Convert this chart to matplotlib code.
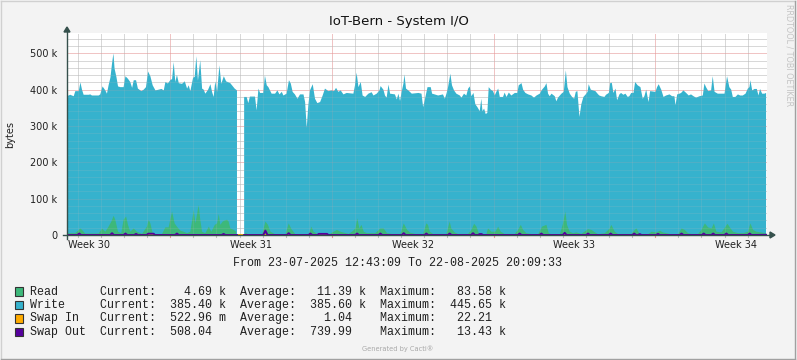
import numpy as np
import pandas as pd
import matplotlib
matplotlib.use("Agg")
import matplotlib.pyplot as plt
from matplotlib.patches import Rectangle, Polygon
from matplotlib.lines import Line2D

# ---------------- data ----------------
title = "IoT-Bern - System I/O"
y_label = "bytes"
start = pd.Timestamp("2025-07-23 12:43:09")
end = pd.Timestamp("2025-08-22 20:09:33")
week_labels = ["Week 30", "Week 31", "Week 32", "Week 33", "Week 34"]
week_mondays = ["2025-07-21", "2025-07-28", "2025-08-04", "2025-08-11", "2025-08-18"]
y_ticks = [0, 100e3, 200e3, 300e3, 400e3, 500e3]
y_tick_labels = ["0", "100 k", "200 k", "300 k", "400 k", "500 k"]

# Write (kB) : time in days since start
write_t = [0.00, 0.14, 0.29, 0.36, 0.51, 0.58, 0.65, 0.72, 0.94, 1.01, 1.08, 1.37, 1.44, 1.54, 1.66, 1.73,
           1.80, 1.88, 1.95, 2.01, 2.06, 2.14, 2.21, 2.31, 2.45, 2.53, 2.64, 2.74, 2.82, 2.89, 2.99, 3.07,
           3.22, 3.32, 3.42, 3.51, 3.61, 3.71, 3.83, 3.97, 4.09, 4.19, 4.26, 4.37, 4.48, 4.55, 4.62, 4.69,
           4.76, 4.84, 4.98, 5.10, 5.20, 5.27, 5.34, 5.46, 5.53, 5.60, 5.67, 5.77, 5.85, 5.92, 5.99, 6.11,
           6.21, 6.28, 6.35, 6.42, 6.50, 6.60, 6.68, 6.79, 6.89, 7.07, 7.26, 7.36, 7.50,
           7.67, 7.78, 7.85, 7.92, 8.14, 8.21, 8.29, 8.36, 8.50, 8.57, 8.65, 8.72, 8.86, 9.01, 9.11, 9.20,
           9.30, 9.37, 9.51, 9.61, 9.69, 9.77, 9.87, 9.98, 10.09, 10.24, 10.31, 10.38, 10.45, 10.52, 10.64,
           10.74, 10.84, 10.96, 11.07, 11.17, 11.32, 11.46, 11.56, 11.65, 11.75, 11.85, 11.97, 12.11, 12.40,
           12.47, 12.54, 12.62, 12.72, 12.80, 12.91, 13.05, 13.19, 13.27, 13.41, 13.53, 13.58, 13.70, 13.77,
           13.84, 13.92, 13.99, 14.20, 14.28, 14.35, 14.42, 14.49, 14.57, 14.61, 14.68, 14.78, 14.93, 15.22,
           15.35, 15.42, 15.49, 15.61, 15.75, 15.81, 15.92, 16.07, 16.28, 16.36, 16.43, 16.50, 16.60, 16.67,
           16.76, 16.86, 17.01, 17.08, 17.19, 17.29, 17.37, 17.44, 17.51, 17.60, 17.68, 17.77, 17.87, 17.94,
           17.99, 18.06, 18.13, 18.20, 18.26, 18.35, 18.45, 18.52, 18.59, 18.67, 18.74, 18.88, 18.95, 19.03,
           19.13, 19.24, 19.39, 19.50, 19.56, 19.68, 19.75, 19.85, 19.97, 20.11, 20.22, 20.33, 20.47, 20.57,
           20.69, 20.76, 20.83, 20.90, 20.98, 21.12, 21.19, 21.26, 21.41, 21.51, 21.60, 21.67, 21.77, 21.87,
           21.96, 22.03, 22.10, 22.19, 22.27, 22.36, 22.46, 22.54, 22.59, 22.68, 22.88, 23.00,
           23.05, 23.13, 23.27, 23.34, 23.46, 23.52, 23.59, 23.66, 23.75, 23.82, 23.92, 23.99, 24.09, 24.18,
           24.28, 24.35, 24.43, 24.53, 24.60, 24.71, 24.83, 24.93, 25.00, 25.08, 25.18, 25.25, 25.48, 25.55,
           25.62, 25.73, 25.83, 25.94, 26.09, 26.20, 26.30, 26.35, 26.42, 26.52, 26.59, 26.69, 26.81, 26.92,
           27.02, 27.13, 27.24, 27.39, 27.53, 27.60, 27.67, 27.77, 27.89, 27.96, 28.04, 28.18, 28.47, 28.58,
           28.68, 28.76, 28.83, 28.94, 29.05, 29.15, 29.26, 29.38, 29.48, 29.55, 29.59, 29.67, 29.77, 29.87,
           29.94, 30.01, 30.10, 30.20, 30.27]
write_k = [382, 386, 382, 396, 396, 420, 400, 386, 386, 387, 384, 384, 387, 409, 398, 389,
           412, 433, 472, 500, 458, 435, 409, 407, 407, 437, 430, 421, 405, 426, 426, 403,
           396, 400, 407, 450, 437, 412, 398, 400, 402, 398, 421, 417, 427, 429, 476, 421,
           441, 418, 416, 423, 403, 412, 396, 433, 435, 492, 425, 481, 403, 400, 389, 400,
           415, 394, 380, 423, 394, 467, 416, 437, 423, 418, 403, 398, np.nan,
           380, 380, 363, 381, 381, 343, 403, 391, 391, 439, 412, 407, 389, 389, 398, 387,
           394, 384, 389, 426, 417, 394, 387, 375, 387, 387, 366, 295, 357, 398, 415,
           375, 363, 366, 384, 403, 396, 398, 396, 405, 394, 398, 387, 391, 389,
           412, 447, 407, 421, 384, 380, 389, 393, 384, 389, 398, 410, 400, 384,
           378, 414, 389, 387, 373, 389, 369, 394, 417, 442, 403, 398, 389, 391,
           389, 352, 371, 407, 407, 389, 387, 384, 387, 375, 389, 407, 444, 412,
           398, 389, 384, 378, 389, 384, 403, 409, 382, 391, 360, 352, 341, 375,
           341, 348, 333, 336, 407, 400, 396, 384, 394, 403, 380, 380, 392, 380,
           392, 384, 391, 391, 412, 418, 400, 391, 387, 384, 378, 384, 389, 400,
           409, 418, 389, 382, 389, 382, 368, 378, 389, 394, 453, 407, 389, 380,
           375, 394, 396, 325, 360, 380, 387, 394, 415, 400, 396, 387,
           384, 382, 380, 386, 391, 418, 419, 391, 403, 371, 387, 391, 386, 389,
           380, 382, 391, 391, 421, 412, 407, 375, 382, 400, 366, 396, 394, 407,
           415, 400, 380, 384, 387, 382, 382, 357, 387, 389, 391, 398, 391, 384,
           387, 382, 378, 382, 384, 417, 407, 396, 398, 437, 394, 389, 389, 437,
           407, 400, 380, 380, 387, 384, 384, 389, 403, 407, 426, 398, 402, 402,
           384, 402, 389, 389, 391]

# Read (kB)
read_t = [0.00, 0.36, 0.43, 0.58, 0.65, 0.79, 1.37, 1.52, 1.66, 1.80, 1.92, 2.02, 2.09, 2.21, 2.35, 2.45,
          2.56, 2.64, 2.74, 2.89, 3.03, 3.25, 3.46, 3.54, 3.61, 3.71, 3.83, 4.11, 4.26, 4.40, 4.55, 4.66,
          4.76, 4.91, 5.05, 5.20, 5.34, 5.49, 5.56, 5.63, 5.70, 5.77, 5.85, 5.99, 6.14, 6.25, 6.40, 6.50,
          6.57, 6.64, 6.74, 6.83, 6.93, 7.00, 7.07, 7.22, 7.32, 7.50,
          7.72, 7.87, 8.45, 8.59, 8.70, 8.81, 9.02, 9.46, 9.60, 9.72, 9.89, 10.47, 10.58, 10.68, 10.90,
          11.33, 11.55, 11.69, 11.84, 12.20, 12.34, 12.49, 12.57, 12.66, 12.75, 12.85, 12.99, 13.35, 13.57,
          13.71, 13.86, 14.08, 14.44, 14.58, 14.73, 14.87, 15.09, 15.42, 15.56, 15.63, 15.71, 15.85, 16.43,
          16.57, 16.64, 16.79, 16.93, 17.37, 17.51, 17.63, 17.73, 17.83, 18.02, 18.16, 18.23, 18.38, 18.55,
          18.67, 18.78, 18.95, 19.39, 19.53, 19.65, 19.75, 19.89, 20.18, 20.40, 20.57, 20.76, 20.86, 20.98,
          21.34, 21.48, 21.58, 21.65, 21.77, 21.91, 22.06, 22.27, 22.56, 22.71, 22.82, 23.00, 23.29, 23.50,
          23.57, 23.72, 23.86, 24.44, 24.58, 24.66, 24.80, 25.16, 25.31, 25.52, 25.67, 25.81, 26.17, 26.46,
          26.61, 26.75, 26.89, 27.04, 27.33, 27.47, 27.62, 27.76, 27.91, 28.01, 28.12, 28.34, 28.60, 28.70,
          28.84, 29.06, 29.28, 29.49, 29.59, 29.71, 29.85, 30.07, 30.21, 30.27]
read_k = [5, 5, 9, 18, 14, 4, 4, 18, 9, 23, 37, 53, 42, 9, 5, 42,
          51, 28, 9, 18, 9, 3, 23, 42, 32, 5, 2, 2, 21, 21, 65, 32,
          23, 12, 9, 5, 9, 69, 32, 56, 83, 42, 9, 5, 23, 9, 28, 32,
          58, 28, 37, 40, 42, 37, 18, 14, 9, np.nan,
          7, 1, 1, 37, 28, 9, 2, 2, 32, 16, 2, 2, 23, 9, 1,
          1, 9, 14, 9, 3, 9, 18, 46, 18, 28, 9, 5, 5, 18,
          18, 5, 3, 3, 32, 14, 6, 3, 3, 32, 28, 9, 3, 3,
          37, 18, 7, 3, 3, 14, 31, 23, 5, 2, 2, 18, 9, 9,
          23, 9, 3, 3, 14, 28, 14, 5, 2, 2, 23, 28, 5, 2,
          2, 32, 65, 28, 9, 5, 7, 3, 16, 14, 9, 2, 5, 18,
          28, 9, 3, 3, 14, 18, 2, 2, 9, 7, 12, 7, 2, 2,
          18, 14, 5, 3, 3, 14, 32, 21, 18, 32, 9, 7, 31, 21,
          9, 5, 5, 9, 32, 14, 9, 7, 5, 4.69]

# Swap Out (kB)
swapout_t = [0.00, 0.45, 0.53, 0.61, 1.87, 1.95, 2.03, 2.45, 2.53, 2.61, 2.91, 2.99, 3.07, 3.45, 3.51, 3.75,
             3.81, 4.68, 4.76, 4.84, 6.70, 6.78, 6.86, 7.36, 7.50, 7.67, 8.50, 8.59, 8.68, 9.52, 9.60, 9.68,
             10.46, 10.54, 10.62, 10.84, 10.90, 11.26, 11.32, 12.48, 12.56, 12.64, 13.49, 13.57, 13.65,
             14.50, 14.58, 14.66, 15.48, 15.56, 15.64, 16.49, 16.57, 16.65, 17.50, 17.58, 17.66, 17.80,
             17.87, 17.95, 18.02, 19.52, 19.60, 19.68, 20.46, 20.54, 20.62, 21.47, 21.55, 21.63, 22.48,
             22.56, 22.64, 23.46, 23.54, 23.62, 24.48, 24.56, 24.64, 24.72, 24.80, 24.88, 25.51, 25.59,
             25.67, 26.53, 26.61, 26.69, 27.49, 27.57, 27.65, 27.90, 27.98, 28.06, 28.47, 28.55, 28.63,
             29.48, 29.56, 29.64, 30.27]
swapout_k = [0, 0, 4, 0, 0, 5, 0, 0, 4, 0, 0, 3, 0, 0, 3.5, 3.5,
             0, 0, 4, 0, 0, 3, 0, 0, np.nan, 0, 0, 12, 0, 0, 5, 0,
             0, 4, 0, 0, 3, 3, 0, 0, 4, 0, 0, 4, 0,
             0, 5, 0, 0, 4, 0, 0, 4, 0, 0, 5, 0, 0,
             2.5, 2.5, 0, 0, 4, 0, 0, 4, 0, 0, 6, 0, 0,
             4, 0, 0, 4, 0, 0, 4, 0, 0, 2.5, 0, 0, 3,
             0, 0, 4, 0, 0, 4, 0, 0, 4, 0, 0, 4, 0,
             0, 4, 0, 0.51]

# Swap In (bytes)
swapin_t = [0.00, 0.30, 0.36, 0.42, 1.89, 1.95, 2.01, 8.89, 8.95, 9.01, 11.49, 11.55, 11.61, 12.50, 12.56,
            12.62, 13.87, 13.93, 13.99, 15.65, 15.71, 15.77, 16.44, 16.50, 16.56, 18.53, 18.59, 18.65,
            19.69, 19.75, 19.81, 23.30, 23.36, 23.42, 27.92, 27.98, 28.04, 28.71, 28.77, 28.83, 29.87,
            29.93, 29.99, 30.27]
swapin_b = [0, 0, 5, 0, 0, 22, 0, 0, 8, 0, 0, 6, 0, 0, 10,
            0, 0, 4, 0, 0, 6, 0, 0, 5, 0, 0, 12, 0,
            0, 14, 0, 0, 5, 0, 0, 10, 0, 0, 7, 0, 0,
            6, 0, 0.52]

series_names = ["Read", "Write", "Swap In", "Swap Out"]
series_colors = ["#3DB87A", "#36B2CD", "#FFAB00", "#55009D"]
cur_vals = [("4.69", "k"), ("385.40", "k"), ("522.96", "m"), ("508.04", "")]
avg_vals = [("11.39", "k"), ("385.60", "k"), ("1.04", ""), ("739.99", "")]
max_vals = [("83.58", "k"), ("445.65", "k"), ("22.21", ""), ("13.43", "k")]

# ---------------- figure ----------------
W, H = 797, 360
fig = plt.figure(figsize=(W / 100, H / 100), dpi=100, facecolor="#F3F3F3")
L, R, T, B = 67, 767, 33, 235
ax = fig.add_axes([L / W, 1 - B / H, (R - L) / W, (B - T) / H])
ax.set_facecolor("white")
span = (end - start) / pd.Timedelta(days=1)
ax.set_xlim(0, span)
ax.set_ylim(0, 556e3)
for s in ax.spines.values():
    s.set_visible(False)

ax.fill_between(write_t, 0, np.array(write_k) * 1e3, color=series_colors[1], lw=0, zorder=1)
ax.fill_between(read_t, 0, np.array(read_k) * 1e3, color=series_colors[0], lw=0, zorder=2)
ax.plot(swapin_t, swapin_b, color=series_colors[2], lw=1.4, zorder=4)
ax.plot(swapout_t, np.array(swapout_k) * 1e3, color=series_colors[3], lw=1.4, zorder=4)

# grid: full strength behind the areas, faint on top of them
RED, GRAY = "#E69A9A", "#BDBDBD"
dots = (0, (1, 1))
xt = ax.get_xaxis_transform()
days = pd.date_range(start.normalize() + pd.Timedelta(days=1), end, freq="D")
for d in days:
    x = (d - start) / pd.Timedelta(days=1)
    col = RED if d.dayofweek == 0 else GRAY
    ax.axvline(x, color=col, lw=0.72, ls=dots, zorder=0.5)
    ax.axvline(x, color=col, lw=0.72, ls=dots, alpha=0.3, zorder=3)
    ax.plot([x, x], [0, -0.012], transform=xt, color=col, lw=0.8, clip_on=False, zorder=3)
for yv in np.arange(20e3, 556e3, 20e3):
    col = RED if round(yv) % 100000 == 0 else GRAY
    ax.axhline(yv, color=col, lw=0.72, ls=dots, zorder=0.5)
    ax.axhline(yv, color=col, lw=0.72, ls=dots, alpha=0.3, zorder=3)

ax.set_xticks([])
ax.set_yticks(y_ticks)
ax.set_yticklabels(y_tick_labels, fontsize=7, color="#202020")
ax.tick_params(axis="y", length=0, pad=7)

for lab, mon in zip(week_labels, week_mondays):
    x = (pd.Timestamp(mon) + pd.Timedelta(hours=84) - start) / pd.Timedelta(days=1)
    ax.text(x, -0.05, lab, transform=xt, ha="center", va="center",
            fontsize=7, color="#202020")

# overlay in pixel coordinates for decorations
ov = fig.add_axes([0, 0, 1, 1], facecolor="none", zorder=10)
ov.set_xlim(0, W)
ov.set_ylim(H, 0)
ov.axis("off")
axis_col = "#35504C"
ov.add_line(Line2D([L, L], [B + 4, T - 2], color=axis_col, lw=1))
ov.add_patch(Polygon([[L - 3, T - 1], [L + 3, T - 1], [L, T - 6]], closed=True, color=axis_col))
ov.add_line(Line2D([L - 4, R + 4], [B, B], color=axis_col, lw=1))
ov.add_patch(Polygon([[R + 3, B - 3], [R + 3, B + 3], [R + 8, B]], closed=True, color=axis_col))

ov.text(W / 2, 22, title, ha="center", va="center", fontsize=9.5, color="#111111")
ov.text(10, 134, y_label, ha="center", va="center", rotation=90, fontsize=7, color="#202020")
ov.text(789, 4, "RRDTOOL / TOBI OETIKER", ha="center", va="top", rotation=270,
        fontsize=5.8, color="#C4C4C4")
ov.text(398, 263, f"From {start:%d-%m-%Y %H:%M:%S} To {end:%d-%m-%Y %H:%M:%S}",
        ha="center", va="center", family="Liberation Mono", fontsize=8.4, color="#202020")

row_y = [291.5, 305.0, 318.5, 332.0]
for i, name in enumerate(series_names):
    c, a, m = cur_vals[i], avg_vals[i], max_vals[i]
    line = (f"{name:<10}Current:{c[0]:>8} {c[1]:<1}  Average:{a[0]:>8} {a[1]:<1}"
            f"  Maximum:{m[0]:>8} {m[1]:<1}")
    ov.add_patch(Rectangle((15, row_y[i] - 4.5), 8.5, 8.5, facecolor=series_colors[i],
                           edgecolor="#333333", lw=0.8))
    ov.text(29.8, row_y[i], line, ha="left", va="center", family="Liberation Mono",
            fontsize=8.4, color="#202020")

ov.text(398, 349, "Generated by Cacti®", ha="center", va="center", fontsize=4.8, color="#A8A8A8")

# frame
ov.add_line(Line2D([0.5, 795.5], [0.5, 0.5], color="#D0D0D0", lw=1))
ov.add_line(Line2D([0.5, 0.5], [0.5, 358.5], color="#D0D0D0", lw=1))
ov.add_line(Line2D([795.5, 795.5], [0.5, 358.5], color="#A0A0A0", lw=1))
ov.add_line(Line2D([0.5, 795.5], [358.5, 358.5], color="#A0A0A0", lw=1))

fig.savefig("out.png", dpi=100, facecolor=fig.get_facecolor())
